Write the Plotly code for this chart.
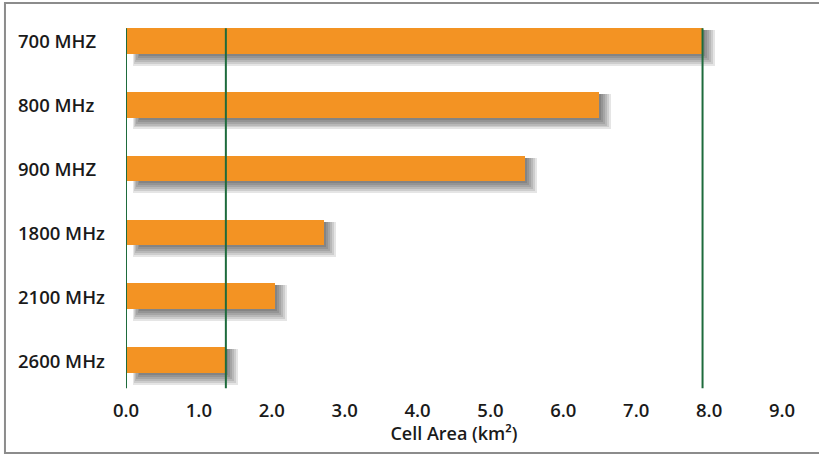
import plotly.graph_objects as go

categories = ["700 MHZ", "800 MHz", "900 MHZ", "1800 MHz", "2100 MHz", "2600 MHz"]
cell_area = [7.91, 6.49, 5.47, 2.72, 2.05, 1.37]
tick_vals = [0, 1, 2, 3, 4, 5, 6, 7, 8, 9]
tick_text = ["0.0", "1.0", "2.0", "3.0", "4.0", "5.0", "6.0", "7.0", "8.0", "9.0"]
ref_lines = [0.0, cell_area[-1], cell_area[0]]

ORANGE = "#F39323"
GREEN = "#1E6B3C"
FONT = "Open Sans"
TXT = "#1a1a1a"
BAR_W = 0.4
PX_Y = 1 / 64.0   # category units per pixel (approx.)
PX_X = 1 / 73.0   # x units per pixel (approx.)

fig = go.Figure()

# blurred drop shadow below / right of each bar: stacked translucent layers
for ext in [2, 4, 6, 8, 10, 12]:
    top = -BAR_W / 2 + 2 * PX_Y            # hidden behind the bar's top
    bottom = BAR_W / 2 + ext * PX_Y
    w = bottom - top
    start = (14 - ext * 0.6) * PX_X
    fig.add_trace(go.Bar(
        y=categories,
        x=[v + ext * PX_X - start for v in cell_area],
        base=start, orientation="h", width=w, offset=top,
        marker=dict(color="rgba(0,0,0,0.10)", line=dict(width=0)),
        hoverinfo="skip", showlegend=False,
    ))

fig.add_trace(go.Bar(
    y=categories, x=cell_area, orientation="h", width=BAR_W,
    marker=dict(color=ORANGE, line=dict(width=0)), showlegend=False,
))

shapes = []
for xv in ref_lines:
    shapes.append(dict(type="line", xref="x", yref="y", x0=xv, x1=xv,
                       y0=-0.2, y1=5.44, line=dict(color=GREEN, width=2), layer="above"))
# outer frame (left, top, bottom)
shapes.append(dict(type="path", xref="paper", yref="paper",
                   path="M 1.1,1.0157 L -0.1845,1.0157 L -0.1845,-0.159 L 1.1,-0.159",
                   line=dict(color="#8C8C8C", width=2), layer="below"))

annotations = []
for c in categories:
    annotations.append(dict(text=c, xref="paper", yref="y", x=-110 / 656, y=c,
                            xanchor="left", yanchor="middle", showarrow=False,
                            font=dict(family=FONT, size=18.5, color=TXT, weight=600)))

fig.update_layout(
    width=819, height=455,
    margin=dict(l=126, r=37, t=9, b=63),
    paper_bgcolor="white", plot_bgcolor="white",
    barmode="overlay", bargap=0,
    shapes=shapes, annotations=annotations,
    xaxis=dict(range=[0, 9], tickvals=tick_vals, ticktext=tick_text,
               showgrid=False, zeroline=False, showline=False, ticks="",
               ticklabelstandoff=5,
               tickfont=dict(family=FONT, size=18.5, color=TXT, weight=600),
               title=dict(text="Cell Area (km²)", standoff=0,
                          font=dict(family=FONT, size=18, color=TXT, weight=600))),
    yaxis=dict(categoryorder="array", categoryarray=categories,
               range=[5.5, -0.5], showticklabels=False, showgrid=False,
               zeroline=False, showline=False, ticks=""),
)

fig.write_html("out.html")
